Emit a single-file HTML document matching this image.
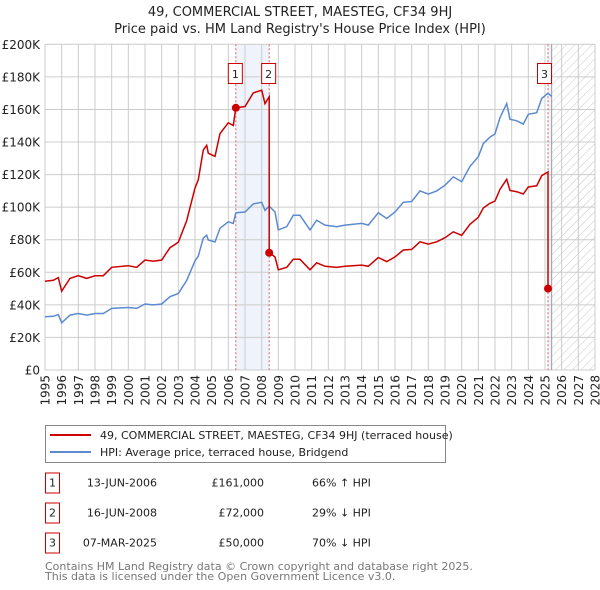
<!DOCTYPE html>
<html><head><meta charset="utf-8"><style>
body{margin:0;background:#fff;width:600px;height:590px;overflow:hidden;font-family:"DejaVu Sans","Liberation Sans",sans-serif;}
svg{display:block}
</style></head><body>
<svg width="600" height="590" xmlns="http://www.w3.org/2000/svg" id="chart" font-family="DejaVu Sans, Liberation Sans, sans-serif">
<defs>
<pattern id="hatch" width="6" height="6" patternUnits="userSpaceOnUse" patternTransform="rotate(45)">
<line x1="0" y1="0" x2="0" y2="6" stroke="#c8c8c8" stroke-width="1"/>
</pattern>
</defs>
<text x="300" y="16" text-anchor="middle" font-size="13" fill="#222">49, COMMERCIAL STREET, MAESTEG, CF34 9HJ</text>
<text x="300" y="33" text-anchor="middle" font-size="13" fill="#222">Price paid vs. HM Land Registry's House Price Index (HPI)</text>
<g id="plot"></g>
<g>
<rect x="45.5" y="425.5" width="400" height="37" fill="#fff" stroke="#888"/>
<line x1="50" y1="435" x2="91" y2="435" stroke="#cc0000" stroke-width="2"/>
<text x="100" y="439" font-size="11" fill="#222">49, COMMERCIAL STREET, MAESTEG, CF34 9HJ (terraced house)</text>
<line x1="50" y1="452" x2="91" y2="452" stroke="#5b8ad0" stroke-width="2"/>
<text x="100" y="456" font-size="11" fill="#222">HPI: Average price, terraced house, Bridgend</text>
</g>
<g id="table" font-size="11" fill="#222"></g>
<text x="45" y="570" font-size="11" fill="#777">Contains HM Land Registry data © Crown copyright and database right 2025.</text>
<text x="45" y="580" font-size="11" fill="#777">This data is licensed under the Open Government Licence v3.0.</text>
</svg>
<script>
const hpiYears=[1995.0,1995.5,1995.8,1996.0,1996.5,1997.0,1997.5,1998.0,1998.5,1999.0,2000.0,2000.5,2001.0,2001.5,2002.0,2002.5,2003.0,2003.5,2004.0,2004.2,2004.5,2004.7,2004.8,2005.2,2005.5,2006.0,2006.3,2006.45,2007.0,2007.5,2008.0,2008.2,2008.45,2008.8,2009.0,2009.5,2009.9,2010.3,2010.9,2011.3,2011.8,2012.5,2013.0,2014.0,2014.4,2015.0,2015.5,2016.0,2016.5,2017.0,2017.5,2018.0,2018.5,2019.0,2019.5,2020.0,2020.5,2021.0,2021.3,2021.7,2022.0,2022.3,2022.7,2022.9,2023.3,2023.7,2024.0,2024.5,2024.8,2025.18,2025.4];
const hpiValues=[32.7,33,34,29,33.7,34.7,33.7,34.7,34.7,37.8,38.4,37.8,40.5,40,40.5,45,47,55,67,70,81,82.7,79.8,78.6,87,91,90,96.5,97,102,103,98,100.6,97,86,88,95,95,86,92,89,88,89,90,89,96.5,93,97,103,103.5,110,108,110,113.5,118.6,115.6,125,131,139,143,145,155,163.6,154,153,151,157,158,166.7,170,168];
const saleDates=[2006.45,2008.45,2025.18];
const salePrices=[161,72,50];
const saleLabels=["1","2","3"];
const saleDateText=["13-JUN-2006","16-JUN-2008","07-MAR-2025"];
const salePriceText=["£161,000","£72,000","£50,000"];
const saleHpiText=["66% ↑ HPI","29% ↓ HPI","70% ↓ HPI"];
const yTicks=[0,20,40,60,80,100,120,140,160,180,200];
const yTickLabels=["£0","£20K","£40K","£60K","£80K","£100K","£120K","£140K","£160K","£180K","£200K"];
const xTicks=[1995,1996,1997,1998,1999,2000,2001,2002,2003,2004,2005,2006,2007,2008,2009,2010,2011,2012,2013,2014,2015,2016,2017,2018,2019,2020,2021,2022,2023,2024,2025,2026,2027,2028];
const forecastStart=2025.4;

const X0=45,X1=595,Y0=370,Y1=44.3;
const xs=y=>X0+(y-1995)/(2028-1995)*(X1-X0);
const ys=v=>Y0-v/200*(Y0-Y1);
const NS="http://www.w3.org/2000/svg";
const plot=document.getElementById('plot');
function mk(tag,attrs,parent){const e=document.createElementNS(NS,tag);for(const k in attrs)e.setAttribute(k,attrs[k]);(parent||plot).appendChild(e);return e;}
function hpiAt(t){for(let i=0;i<hpiYears.length-1;i++){if(t>=hpiYears[i]&&t<=hpiYears[i+1]){const f=(t-hpiYears[i])/(hpiYears[i+1]-hpiYears[i]);return hpiValues[i]+f*(hpiValues[i+1]-hpiValues[i]);}}return hpiValues[hpiValues.length-1];}

// background shading
const band=mk('rect',{x:xs(saleDates[0]),y:Y1,width:xs(saleDates[1])-xs(saleDates[0]),height:Y0-Y1,fill:'#eef3fc'});


const band3=mk('rect',{x:xs(saleDates[2]),y:Y1,width:xs(forecastStart)-xs(saleDates[2]),height:Y0-Y1,fill:'#eef3fc'});


const hatch=mk('rect',{x:xs(forecastStart),y:Y1,width:X1-xs(forecastStart),height:Y0-Y1,fill:'url(#hatch)'});


// grid
yTicks.forEach((v,i)=>{
 const g=mk('line',{x1:X0,x2:X1,y1:ys(v),y2:ys(v),stroke:'#cccccc','stroke-width':1});
 
 
 const t=mk('text',{x:X0-5,y:ys(v)+4.5,'text-anchor':'end','font-size':12,fill:'#222'});
 t.textContent=yTickLabels[i];
 
 
});
xTicks.forEach(yr=>{
 const g=mk('line',{x1:xs(yr),x2:xs(yr),y1:Y1,y2:Y0,stroke:'#cccccc','stroke-width':1});
 
 
 const t=mk('text',{x:0,y:0,'text-anchor':'end','font-size':12,fill:'#222',transform:`translate(${xs(yr)+4.5},${Y0+5}) rotate(-90)`});
 t.textContent=yr;
 
 
});
const fl=mk('line',{x1:xs(forecastStart),x2:xs(forecastStart),y1:Y1,y2:Y0,stroke:'#999','stroke-width':1});


// sale vlines
saleDates.forEach(d=>{
 const l=mk('line',{x1:xs(d),x2:xs(d),y1:Y1,y2:Y0,stroke:'#e06060','stroke-width':1,'stroke-dasharray':'2,2'});
 
 
});
// HPI line
const hp=hpiYears.map((t,i)=>xs(t).toFixed(1)+','+ys(hpiValues[i]).toFixed(1)).join(' ');
const hl=mk('polyline',{points:hp,fill:'none',stroke:'#5b8ad0','stroke-width':1.5});


// property line: HPI scaled by ratio at last sale
const ratios=saleDates.map((d,i)=>salePrices[i]/hpiAt(d));
const pts=[];
let seg=0;
hpiYears.forEach((t,i)=>{
 while(seg<saleDates.length-1&&t>saleDates[seg+1]){
  const d=saleDates[seg+1];
  pts.push([d,hpiAt(d)*ratios[seg]]);pts.push([d,salePrices[seg+1]]);seg++;
 }
 if(t<=saleDates[0])pts.push([t,hpiValues[i]*ratios[0]]);
 else pts.push([t,hpiValues[i]*ratios[seg]]);
});
const rl=mk('polyline',{points:pts.map(p=>xs(p[0]).toFixed(1)+','+ys(p[1]).toFixed(1)).join(' '),fill:'none',stroke:'#cc0000','stroke-width':1.5});


saleDates.forEach((d,i)=>{
 const c=mk('circle',{cx:xs(d),cy:ys(salePrices[i]),r:4,fill:'#cc0000'});
 
 
 const b=mk('rect',{x:xs(d)-7.5-(i==2?3:0),y:63.5,width:14,height:20,fill:'#fff',stroke:'#cc0000'});
 
 
 const t=mk('text',{x:xs(d)-0.5-(i==2?3:0),y:78,'text-anchor':'middle','font-size':11,fill:'#222'});
 t.textContent=saleLabels[i];
 
 
});
// table
const tbl=document.getElementById('table');
saleDates.forEach((d,i)=>{
 const cy=483+30*i;
 const b=mk('rect',{x:45.5,y:cy-10,width:14,height:20,fill:'#fff',stroke:'#cc0000'},tbl);
 
 
 const n=mk('text',{x:52.5,y:cy+3.5,'text-anchor':'middle'},tbl);n.textContent=saleLabels[i];
 
 
 const a=mk('text',{x:157,y:cy+3.5,'text-anchor':'end'},tbl);a.textContent=saleDateText[i];
 
 
 const p=mk('text',{x:264,y:cy+3.5,'text-anchor':'end'},tbl);p.textContent=salePriceText[i];
 
 
 const h=mk('text',{x:312,y:cy+3.5},tbl);h.textContent=saleHpiText[i];
 
 
});
</script>
</body></html>
